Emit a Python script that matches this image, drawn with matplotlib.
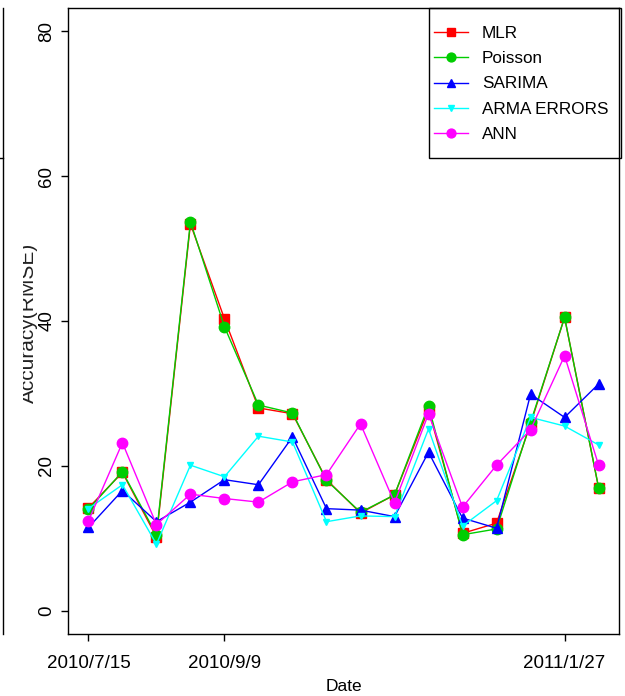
"""
Accuracy (RMSE) of five forecasting models over biweekly dates.
"""

import matplotlib

matplotlib.use("Agg")
import matplotlib.pyplot as plt
import pandas as pd
from matplotlib.lines import Line2D
from matplotlib.patches import Rectangle
from matplotlib.transforms import Bbox, TransformedBbox

plt.rcParams["font.family"] = ["Liberation Sans", "DejaVu Sans"]

# data
dates = [
    "2010-07-15", "2010-07-29", "2010-08-12", "2010-08-26",
    "2010-09-09", "2010-09-23", "2010-10-07", "2010-10-21",
    "2010-11-04", "2010-11-18", "2010-12-02", "2010-12-16",
    "2010-12-30", "2011-01-13", "2011-01-27", "2011-02-10",
]
mlr = [14.2, 19.1, 10.2, 53.4, 40.3, 28.0, 27.2, 18.1,
       13.5, 16.0, 27.8, 10.7, 12.1, 25.8, 40.5, 17.0]
poisson = [14.0, 19.2, 10.5, 53.7, 39.2, 28.4, 27.3, 18.0,
           13.6, 16.0, 28.3, 10.5, 11.3, 26.0, 40.5, 17.0]
sarima = [11.5, 16.6, 12.3, 15.0, 18.1, 17.4, 24.0, 14.1,
          13.9, 13.0, 21.9, 12.8, 11.4, 29.9, 26.7, 31.3]
arma_errors = [14.1, 17.4, 9.2, 20.1, 18.5, 24.1, 23.3, 12.3,
               13.1, 13.0, 25.1, 11.7, 15.2, 26.7, 25.5, 22.9]
ann = [12.4, 23.2, 11.9, 16.1, 15.5, 15.0, 17.8, 18.8,
       25.8, 14.9, 27.2, 14.3, 20.1, 25.0, 35.2, 20.1]

tick_dates = ["2010-07-15", "2010-09-09", "2011-01-27"]
tick_labels = ["2010/7/15", "2010/9/9", "2011/1/27"]
y_ticks = [0, 20, 40, 60, 80]

series = [
    ("MLR", mlr, "#FF0000", "s", 7.0),
    ("Poisson", poisson, "#00CD00", "o", 7.5),
    ("SARIMA", sarima, "#0000FF", "^", 7.5),
    ("ARMA ERRORS", arma_errors, "#00FFFF", "v", 5.0),
    ("ANN", ann, "#FF00FF", "o", 7.5),
]

W, H = 625, 696
fig = plt.figure(figsize=(W / 100, H / 100), dpi=100)
ax = fig.add_axes([68 / W, 1 - 634 / H, (619 - 68) / W, (634 - 8) / H])

x = pd.to_datetime(dates)
for name, vals, color, marker, ms in series:
    ax.plot(x, vals, color=color, lw=1.0, marker=marker, ms=ms,
            mec=color, mfc=color, label=name)

# R-style axis ranges (4% padding)
ax.margins(x=0.04)
ax.set_ylim(-0.04 * 80, 80 * 1.04)
ax.set_yticks(y_ticks)
ax.set_yticklabels([str(v) for v in y_ticks], rotation=90, va="center")
ax.set_xticks(pd.to_datetime(tick_dates))
ax.set_xticklabels(tick_labels)
ax.tick_params(axis="y", length=5, width=1, labelsize=13.5, pad=4)
ax.tick_params(axis="x", length=5, width=1, labelsize=13.5, pad=10)
for sp in ax.spines.values():
    sp.set_linewidth(1.0)

ax.set_xlabel("Date", fontsize=12.5, labelpad=5)

# y label, cut on its left side like the original
ylab = fig.text(37.5 / W, 1 - 323 / H, "Accuracy(RMSE)", rotation=90,
                ha="right", va="center", fontsize=15, color="#222222")
ylab.set_clip_box(TransformedBbox(Bbox([[23 / W, 0], [1, 1]]), fig.transFigure))
ylab.set_clip_on(True)

# legend with an R-like box
leg = ax.legend(loc="upper left", bbox_to_anchor=(434 / W, 1 - 26 / H),
                bbox_transform=fig.transFigure, frameon=False,
                fontsize=12.3, borderpad=0, borderaxespad=0,
                handlelength=2.0, handletextpad=0.8, labelspacing=0.6,
                markerscale=0.85)
ax.add_artist(Rectangle((429 / W, 1 - 158 / H), (621 - 429) / W, 150 / H,
                        transform=fig.transFigure, fill=False, lw=1.0,
                        ec="black", clip_on=False))

# edge of the neighbouring panel
fig.add_artist(Line2D([3 / W, 3 / W], [1 - 8 / H, 1 - 634 / H],
                      transform=fig.transFigure, color="black", lw=1.0))
fig.add_artist(Line2D([0, 3 / W], [1 - 158 / H, 1 - 158 / H],
                      transform=fig.transFigure, color="black", lw=1.0))

fig.savefig("out.png", dpi=100)
